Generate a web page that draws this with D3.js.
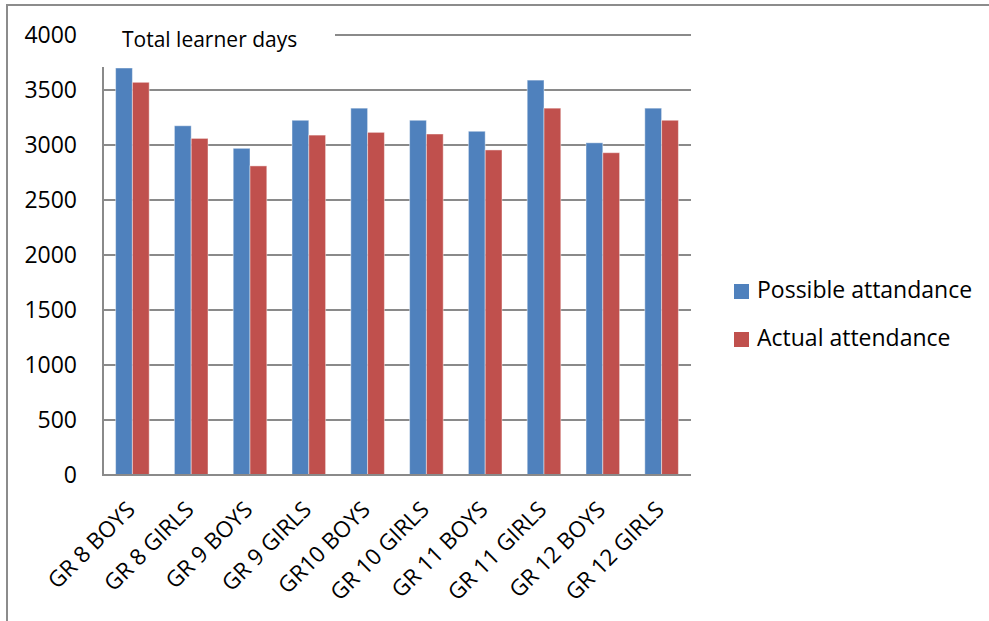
<!DOCTYPE html>
<html>
<head>
<meta charset="utf-8">
<script src="https://cdn.jsdelivr.net/npm/d3@7"></script>
<style>
  html, body { margin: 0; padding: 0; background: #fff; }
  svg { display: block; font-family: "Open Sans", sans-serif; }
</style>
</head>
<body>
<svg id="chart" width="989" height="621"></svg>
<script>
// Attendance per grade group, in learner days
const categories = ["GR 8 BOYS", "GR 8 GIRLS", "GR 9 BOYS", "GR 9 GIRLS", "GR10 BOYS",
                    "GR 10 GIRLS", "GR 11 BOYS", "GR 11 GIRLS", "GR 12 BOYS", "GR 12 GIRLS"];
const seriesNames = ["Possible attandance", "Actual attendance"];
const possible = [3700, 3175, 2970, 3225, 3335, 3225, 3125, 3590, 3020, 3335];
const actual   = [3570, 3060, 2810, 3090, 3115, 3100, 2955, 3335, 2930, 3225];
const yTicks = [0, 500, 1000, 1500, 2000, 2500, 3000, 3500, 4000];
const colors = ["#4F81BD", "#C0504D"];
const titleText = "Total learner days";

const svg = d3.select("#chart");

// outer frame (top and left edges)
svg.append("line").attr("x1", 6).attr("x2", 989).attr("y1", 5).attr("y2", 5)
  .attr("stroke", "#8c8c8c").attr("stroke-width", 2);
svg.append("line").attr("x1", 7).attr("x2", 7).attr("y1", 4).attr("y2", 621)
  .attr("stroke", "#8c8c8c").attr("stroke-width", 2);

const plot = { left: 103, right: 691, top: 35, bottom: 475 };

const x = d3.scaleBand().domain(categories).range([plot.left, plot.right]).padding(0);
const xs = d3.scaleBand().domain(seriesNames).range([0, x.bandwidth()])
  .paddingInner(0).paddingOuter(0.75);
const y = d3.scaleLinear().domain([0, 4000]).range([plot.bottom, plot.top]);

// horizontal gridlines
svg.append("g").selectAll("line").data(yTicks).join("line")
  .attr("x1", plot.left).attr("x2", plot.right)
  .attr("y1", d => y(d)).attr("y2", d => y(d))
  .attr("stroke", "#8a8a8a").attr("stroke-width", 2);

// y axis labels
const yAxis = d3.axisLeft(y).tickValues(yTicks).tickFormat(d3.format("d"))
  .tickSize(0).tickPadding(26);
const gy = svg.append("g").attr("transform", `translate(${plot.left},0)`).call(yAxis);
gy.select(".domain").remove();
gy.selectAll("text").attr("font-size", 23).attr("fill", "#000")
  .attr("font-family", "'Open Sans', sans-serif");

// bars
const rows = categories.map((c, i) => ({ cat: c, vals: [possible[i], actual[i]] }));
const groups = svg.append("g").selectAll("g").data(rows).join("g")
  .attr("transform", d => `translate(${x(d.cat)},0)`);
groups.selectAll("rect").data(d => d.vals.map((v, k) => ({ v, k })))
  .join("rect")
  .attr("x", d => xs(seriesNames[d.k]))
  .attr("width", xs.bandwidth())
  .attr("y", d => y(d.v))
  .attr("height", d => y(0) - y(d.v))
  .attr("fill", d => colors[d.k])
  .attr("stroke", "rgba(255,255,255,0.45)")
  .attr("stroke-width", 1);

// value axis line and category axis line
svg.append("line").attr("x1", plot.left).attr("x2", plot.left)
  .attr("y1", plot.top).attr("y2", plot.bottom + 1)
  .attr("stroke", "#8a8a8a").attr("stroke-width", 2);
svg.append("line").attr("x1", plot.left - 1).attr("x2", plot.right)
  .attr("y1", plot.bottom).attr("y2", plot.bottom)
  .attr("stroke", "#8a8a8a").attr("stroke-width", 2);

// category labels, rotated
const xAxis = d3.axisBottom(x).tickSize(0).tickPadding(0);
const gx = svg.append("g").attr("transform", `translate(0,${plot.bottom})`).call(xAxis);
gx.select(".domain").remove();
gx.selectAll("text")
  .attr("font-size", 22.5).attr("fill", "#000")
  .attr("font-family", "'Open Sans', sans-serif")
  .attr("text-anchor", "end")
  .attr("dy", 0).attr("y", 0)
  .attr("transform", "translate(4,36) rotate(-45)");

// chart title on a white box over the top of the plot
svg.append("rect").attr("x", 95).attr("y", 18).attr("width", 240).attr("height", 49)
  .attr("fill", "#fff");
svg.append("text").attr("x", 122).attr("y", 47).attr("font-size", 21)
  .attr("fill", "#000").text(titleText);

// legend
const legend = svg.append("g").selectAll("g").data(seriesNames).join("g")
  .attr("transform", (d, i) => `translate(734,${284 + i * 48})`);
legend.append("rect").attr("width", 15).attr("height", 15)
  .attr("fill", (d, i) => colors[i]);
legend.append("text").attr("x", 23).attr("y", 14).attr("font-size", 23)
  .attr("fill", "#000").text(d => d);
</script>
</body>
</html>
